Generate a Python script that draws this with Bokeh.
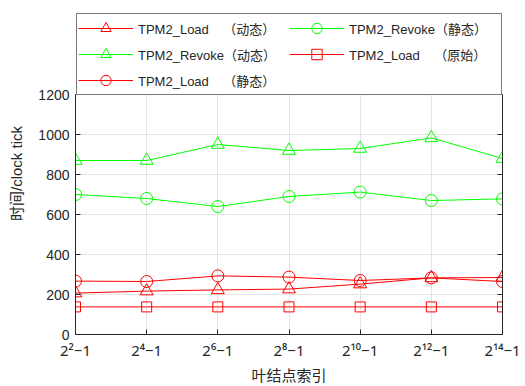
from bokeh.plotting import figure
from bokeh.models import Legend, LegendItem, LinearAxis, FixedTicker, Range1d
from bokeh.embed import file_html
from bokeh.resources import INLINE

# ---- data ----
exponents = [2, 4, 6, 8, 10, 12, 14]
tick_labels = ["2²−1", "2⁴−1", "2⁶−1", "2⁸−1", "2¹⁰−1", "2¹²−1", "2¹⁴−1"]
y_ticks = [0, 200, 400, 600, 800, 1000, 1200]

load_dynamic = [207, 217, 223, 227, 252, 283, 285]
revoke_static = [700, 680, 640, 690, 712, 670, 678]
revoke_dynamic = [870, 870, 950, 920, 930, 983, 880]
load_original = [138, 138, 138, 138, 138, 138, 138]
load_static = [267, 265, 293, 287, 270, 283, 265]

RED = "#ff0000"
GREEN = "#00ff00"
TXT = "#262626"
FONT = "Liberation Sans"
Y_MAX = 1200
Y_TOP = 1610  # extra room above the axes for the legend box

p = figure(width=525, height=386, output_backend="svg", toolbar_location=None,
           x_range=Range1d(2, 14), y_range=Range1d(0, Y_TOP),
           min_border_left=75, min_border_right=23, min_border_bottom=52,
           min_border_top=12)
p.outline_line_color = None
p.background_fill_color = "white"

series = [
    (load_dynamic, RED, "triangle", 13, "TPM2_Load\u00a0\u00a0\u00a0\u00a0（动态）"),
    (revoke_static, GREEN, "circle", 12, "TPM2_Revoke（静态）"),
    (revoke_dynamic, GREEN, "triangle", 13, "TPM2_Revoke（动态）"),
    (load_original, RED, "square", 10, "TPM2_Load\u00a0\u00a0\u00a0\u00a0（原始）"),
    (load_static, RED, "circle", 12, "TPM2_Load\u00a0\u00a0\u00a0\u00a0（静态）"),
]

items = []
for ys, col, mk, sz, lab in series:
    lr = p.line(exponents, ys, line_color=col, line_width=1)
    sr = p.scatter(exponents, ys, marker=mk, size=sz, line_color=col,
                   fill_color=None, line_width=1)
    items.append(LegendItem(label=lab, renderers=[lr, sr]))

# axes
for ax in (p.xaxis[0], p.yaxis[0]):
    ax.axis_line_color = TXT
    ax.major_tick_line_color = TXT
    ax.major_tick_in = 5
    ax.major_tick_out = 0
    ax.minor_tick_line_color = None
    ax.major_label_text_color = TXT
    ax.major_label_text_font = FONT
    ax.axis_label_text_color = TXT
    ax.axis_label_text_font_style = "normal"

p.xaxis.ticker = FixedTicker(ticks=exponents)
p.xaxis.major_label_overrides = {e: t for e, t in zip(exponents, tick_labels)}
p.xaxis.major_label_text_font = "Noto Sans"
p.xaxis.major_label_text_font_size = "15px"
p.xaxis.major_label_standoff = 5
p.xaxis.axis_label = "叶结点索引"
p.xaxis.axis_label_text_font = FONT + ", Noto Sans CJK SC"
p.xaxis.axis_label_text_font_size = "15px"
p.xaxis.axis_label_standoff = 4

p.yaxis.ticker = FixedTicker(ticks=y_ticks)
p.yaxis.bounds = (0, Y_MAX)
p.yaxis.major_label_text_font_size = "14px"
p.yaxis.major_label_standoff = 6
p.yaxis.axis_label = "时间/clock tick"
p.yaxis.axis_label_text_font = FONT + ", Noto Sans CJK SC"
p.yaxis.axis_label_text_font_size = "15px"
p.yaxis.axis_label_standoff = 10

right = LinearAxis(ticker=FixedTicker(ticks=y_ticks), bounds=(0, Y_MAX),
                   axis_line_color=TXT,
                   major_tick_line_color=TXT, major_tick_in=5, major_tick_out=0,
                   minor_tick_line_color=None, major_label_text_color=None,
                   major_label_text_font_size="4px", major_label_standoff=0)
p.add_layout(right, "right")

p.xgrid.ticker = FixedTicker(ticks=exponents)
p.ygrid.ticker = FixedTicker(ticks=y_ticks)
p.grid.grid_line_color = "#e3e3e3"
p.grid.grid_line_width = 1

legend = Legend(items=items, ncols=2, orientation="horizontal",
                location="top_left",
                margin=1, padding=1, spacing=0, label_standoff=5,
                glyph_width=55, glyph_height=26, label_height=26, label_width=151,
                border_line_color="#7a7a7a", border_line_width=1,
                border_line_alpha=1,
                background_fill_color="white", background_fill_alpha=1,
                label_text_font=FONT + ", Noto Sans CJK SC",
                label_text_font_size="13px", label_text_color=TXT)
p.add_layout(legend, "center")

open("out.html", "w").write(file_html(p, INLINE))
